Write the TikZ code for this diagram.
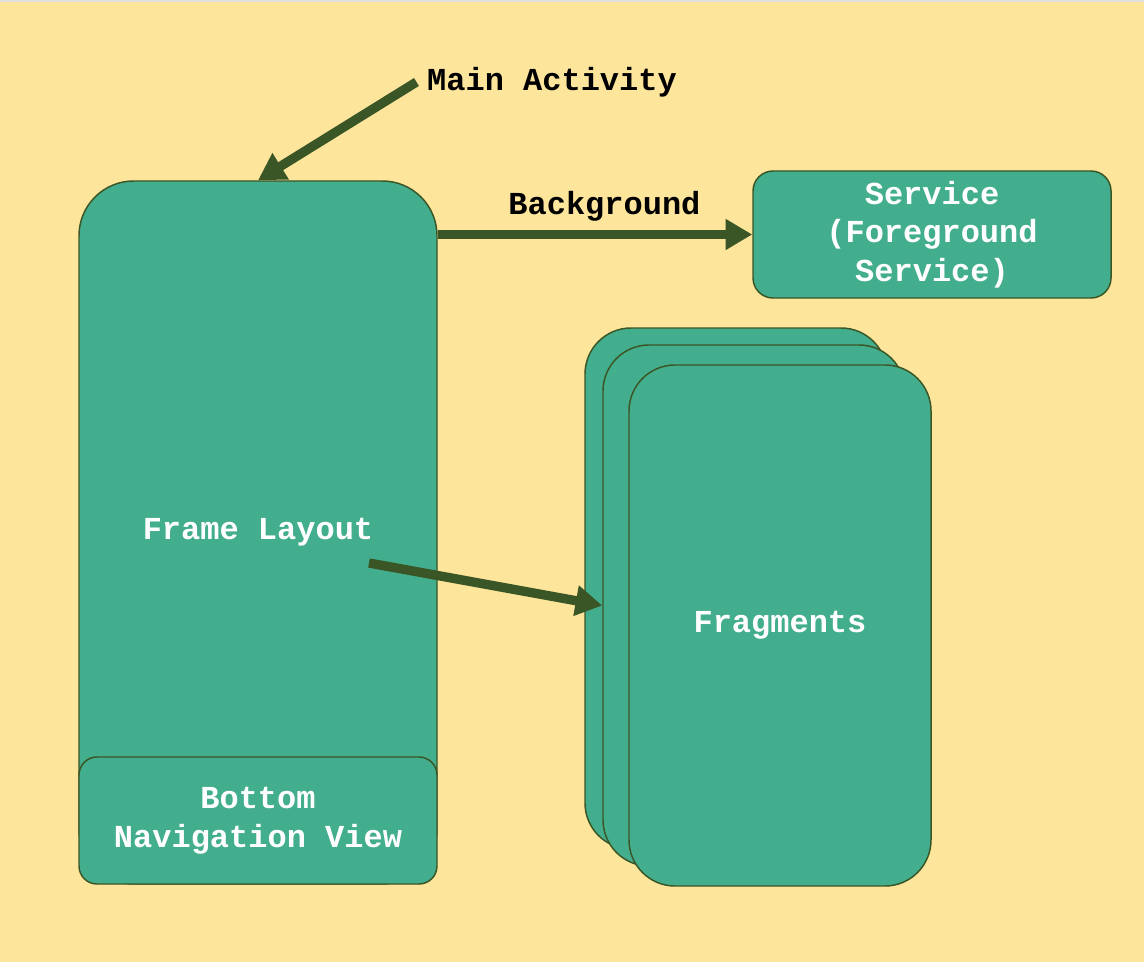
\documentclass[tikz,border=0pt]{standalone}
\usepackage{fontspec}
\setmonofont{Liberation Mono}
\usetikzlibrary{positioning, arrows.meta}
\definecolor{paper}{RGB}{254,229,156}
\definecolor{leaf}{RGB}{67,174,141}
\definecolor{bark}{RGB}{58,86,38}

\begin{document}
\begin{tikzpicture}[x = 0.75pt, y = -0.75pt,
    every node/.style = { align = center, font = \ttfamily\bfseries\fontsize{24}{29}\selectfont },
    box/.style = { draw = bark, line width = 1.1pt, fill = leaf, text = white, shape = rectangle, inner sep = 0pt },
    frag/.style = { box, minimum width = 226.5pt, minimum height = 390.75pt, rounded corners = 34.5pt },
    flow/.style = { draw = bark, line width = 7pt, -{Triangle[length = 20pt, width = 22pt]} }]
    \fill[paper] (0,0) rectangle (1144,962);
    \fill[black!12] (0,0) rectangle (1144,2);
    \useasboundingbox (0,0) rectangle (1144,962);

    % activity column
    \node[box, minimum width = 268.5pt, minimum height = 527.25pt, rounded corners = 41pt] (frame) at (258,532.5) {Frame Layout};
    \node[box, minimum width = 268.5pt, minimum height = 95.25pt, rounded corners = 13.5pt] (nav) at (258,820.5) {Bottom\\Navigation View};
    \node[text = black] (main) at (552,82) {Main Activity};

    % service
    \node[box, minimum width = 268.5pt, minimum height = 95.25pt, rounded corners = 15pt] (service) at (932,234.5) {Service\\(Foreground\\Service)};

    % fragment stack
    \node[frag] (frag1) at (736,588.5) {};
    \node[frag] (frag2) at (754,605.5) {};
    \node[frag] (frag3) at (780,625.5) {Fragments};

    \coordinate (tail) at (369,563);
    \draw[flow] ([xshift = -4.5pt]main.west) -- (frame.north);
    \draw[flow] (frame.east |- service.west) -- node[pos = .53, above = 3pt, text = black] {Background} (service.west);
    \draw[flow] (tail) -- (frag2.west);
\end{tikzpicture}
\end{document}
